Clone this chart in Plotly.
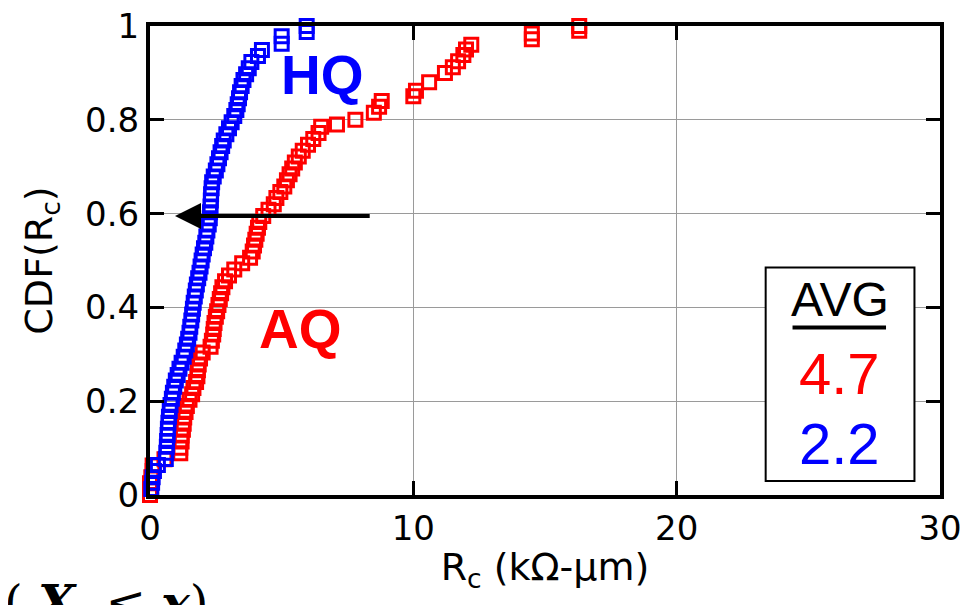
import plotly.graph_objects as go

# ---- data ----
hq_rc = [0.05, 0.08, 0.1, 0.15, 0.3, 0.6, 0.62, 0.64, 0.65, 0.67, 0.68, 0.70, 0.72, 0.75, 0.78,
         0.83, 0.87, 0.92, 0.98, 1.05, 1.12, 1.2, 1.28, 1.34, 1.4, 1.45, 1.5, 1.53, 1.57, 1.6,
         1.63, 1.66, 1.7, 1.74, 1.78, 1.83, 1.88, 1.92, 1.96, 2.0, 2.05, 2.1, 2.14, 2.18, 2.23,
         2.27, 2.28, 2.3, 2.31, 2.32, 2.34, 2.36, 2.42, 2.5, 2.56, 2.62, 2.68, 2.74, 2.8, 2.9,
         3.0, 3.1, 3.2, 3.28, 3.33, 3.38, 3.42, 3.48, 3.55, 3.65, 3.75, 3.85, 4.1, 4.25, 5.0,
         5.0, 5.95, 5.95]
hq_cdf = [0.013, 0.026, 0.038, 0.051, 0.064, 0.077, 0.090, 0.103, 0.115, 0.128, 0.141, 0.154,
          0.167, 0.179, 0.192, 0.205, 0.218, 0.231, 0.244, 0.256, 0.269, 0.282, 0.295, 0.308,
          0.321, 0.333, 0.346, 0.359, 0.372, 0.385, 0.397, 0.410, 0.423, 0.436, 0.449, 0.462,
          0.474, 0.487, 0.500, 0.513, 0.526, 0.538, 0.551, 0.564, 0.577, 0.590, 0.603, 0.615,
          0.628, 0.641, 0.654, 0.667, 0.679, 0.692, 0.705, 0.718, 0.731, 0.744, 0.756, 0.769,
          0.782, 0.795, 0.808, 0.821, 0.833, 0.846, 0.859, 0.872, 0.885, 0.897, 0.910, 0.923,
          0.936, 0.949, 0.962, 0.978, 0.987, 1.0]

aq_rc = [0.0, 0.0, 0.0, 0.05, 0.1, 0.1, 0.55, 1.15, 1.15, 1.2, 1.2, 1.25, 1.28, 1.3, 1.35,
         1.4, 1.5, 1.6, 1.65, 1.75, 1.8, 1.82, 1.85, 1.9, 2.0, 2.3, 2.35, 2.4, 2.42, 2.45,
         2.5, 2.55, 2.6, 2.65, 2.7, 2.75, 2.85, 3.0, 3.2, 3.5, 3.8, 3.9, 3.95, 4.0, 4.05,
         4.1, 4.15, 4.3, 4.5, 4.7, 4.8, 4.95, 5.1, 5.2, 5.3, 5.4, 5.5, 5.65, 5.8, 6.0,
         6.2, 6.4, 6.5, 7.1, 7.8, 8.5, 8.7, 8.8, 10.0, 10.1, 10.6, 11.2, 11.5, 11.7, 11.9,
         12.0, 12.2, 14.5, 14.5, 16.3, 16.3]
aq_cdf = [0.000, 0.013, 0.025, 0.038, 0.051, 0.063, 0.076, 0.089, 0.101, 0.114, 0.127, 0.139,
          0.152, 0.165, 0.177, 0.190, 0.203, 0.215, 0.228, 0.241, 0.253, 0.266, 0.278, 0.291,
          0.304, 0.316, 0.329, 0.342, 0.354, 0.367, 0.380, 0.392, 0.405, 0.418, 0.430, 0.443,
          0.456, 0.468, 0.481, 0.494, 0.506, 0.519, 0.532, 0.544, 0.557, 0.570, 0.582, 0.595,
          0.608, 0.620, 0.633, 0.646, 0.658, 0.671, 0.684, 0.696, 0.709, 0.722, 0.734, 0.747,
          0.759, 0.772, 0.785, 0.790, 0.800, 0.815, 0.828, 0.840, 0.850, 0.862, 0.880, 0.900,
          0.912, 0.925, 0.938, 0.950, 0.960, 0.972, 0.984, 0.990, 1.0]

x_ticks = [0, 10, 20, 30]
x_tick_labels = ["0", "10", "20", "30"]
y_ticks = [0, 0.2, 0.4, 0.6, 0.8, 1.0]
y_tick_labels = ["0", "0.2", "0.4", "0.6", "0.8", "1"]

avg_labels = ["AVG", "4.7", "2.2"]

BLUE = "#0000FF"
RED = "#FF0000"
FONT = "DejaVu Sans"

fig = go.Figure()

fig.add_trace(go.Scatter(
    x=aq_rc, y=aq_cdf, mode="markers", name="AQ",
    marker=dict(symbol="square-open", size=13, color=RED, line=dict(width=3, color=RED)),
    cliponaxis=False))
fig.add_trace(go.Scatter(
    x=hq_rc, y=hq_cdf, mode="markers", name="HQ",
    marker=dict(symbol="square-open", size=13, color=BLUE, line=dict(width=3, color=BLUE)),
    cliponaxis=False))

axis_common = dict(
    showline=True, linecolor="black", linewidth=4, mirror="ticks",
    ticks="inside", ticklen=14, tickwidth=2.5, tickcolor="black",
    showgrid=True, gridcolor="#9a9a9a", gridwidth=1, zeroline=False,
    tickfont=dict(family=FONT, size=34, color="black"),
    ticklabeloverflow="allow", automargin=False,
)

fig.update_xaxes(range=[0, 30], tickvals=x_ticks, ticktext=x_tick_labels,
                 title=dict(text="R<sub>c</sub> (kΩ-μm)", font=dict(family=FONT, size=38, color="black"),
                            standoff=8),
                 **axis_common)
fig.update_yaxes(range=[0, 1], tickvals=y_ticks, ticktext=y_tick_labels,
                 title=dict(text="CDF(R<sub>c</sub>)", font=dict(family=FONT, size=38, color="black"),
                            standoff=22),
                 **axis_common)

# arrow
fig.add_annotation(x=0.95, y=0.595, ax=8.4, ay=0.595, xref="x", yref="y", axref="x", ayref="y",
                   text="", showarrow=True, arrowhead=2, arrowsize=1.3, arrowwidth=4, arrowcolor="black")

# series labels
fig.add_annotation(x=6.55, y=0.895, xref="x", yref="y", text="<b>HQ</b>", showarrow=False,
                   font=dict(family="Liberation Sans", size=55, color=BLUE))
fig.add_annotation(x=5.7, y=0.355, xref="x", yref="y", text="<b>AQ</b>", showarrow=False,
                   font=dict(family="Liberation Sans", size=55, color=RED))

# AVG box
fig.add_shape(type="rect", x0=23.38, x1=29.03, y0=0.03, y1=0.485, xref="x", yref="y",
              line=dict(color="black", width=2), fillcolor="white", layer="above")
fig.add_shape(type="line", x0=24.4, x1=27.95, y0=0.357, y1=0.357, xref="x", yref="y",
              line=dict(color="black", width=4), layer="above")
fig.add_annotation(x=26.2, y=0.417, xref="x", yref="y", text=avg_labels[0], showarrow=False,
                   font=dict(family="Liberation Sans", size=48, color="black"))
fig.add_annotation(x=26.2, y=0.26, xref="x", yref="y", text=avg_labels[1], showarrow=False,
                   font=dict(family="Liberation Sans", size=58, color=RED))
fig.add_annotation(x=26.2, y=0.11, xref="x", yref="y", text=avg_labels[2], showarrow=False,
                   font=dict(family="Liberation Sans", size=58, color=BLUE))

# cut-off formula text at the bottom-left
NB = "\u00a0"
fig.add_annotation(x=-0.187, y=-0.166, xref="paper", yref="paper", xanchor="left", yanchor="top",
                   text="(" + NB + "<b><i>X</i></b>" + NB * 2 + "≤" + NB + "<b><i>x</i></b>)",
                   showarrow=False,
                   font=dict(family="DejaVu Serif", size=48, color="black"))

fig.update_layout(
    width=972, height=605,
    margin=dict(l=142, r=40, t=18, b=118, autoexpand=False),
    paper_bgcolor="white", plot_bgcolor="white",
    showlegend=False,
)

fig.write_html("out.html")
